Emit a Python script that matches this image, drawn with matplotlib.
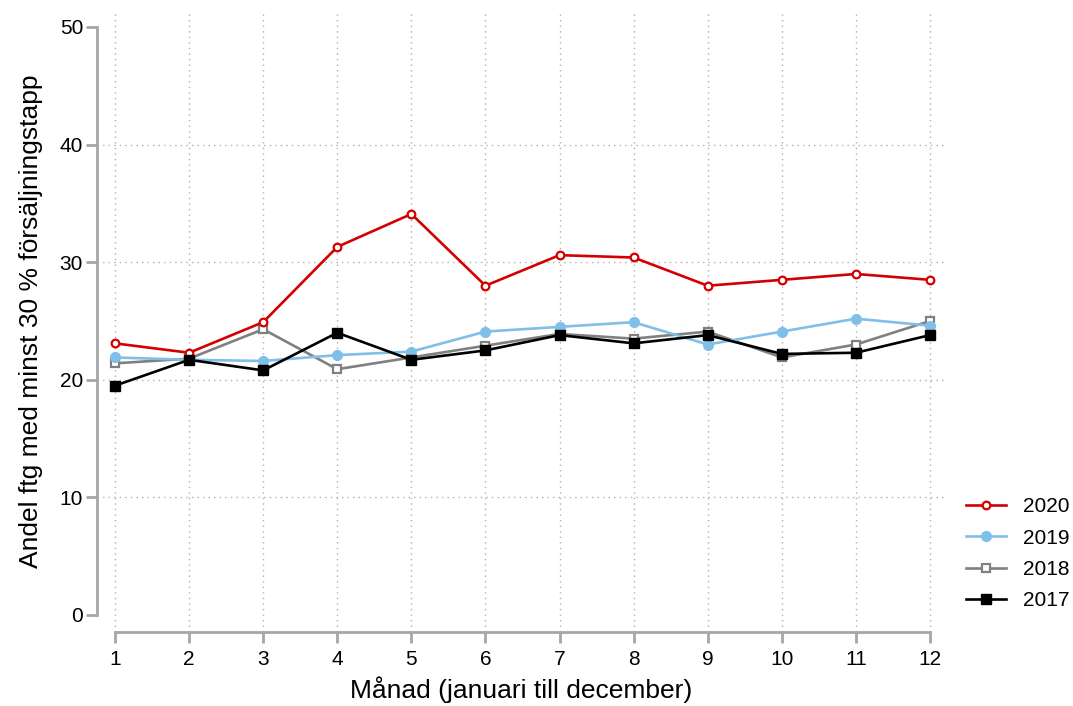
import matplotlib
matplotlib.use("Agg")
from matplotlib import pyplot as plt
import numpy as np

plt.rcParams['font.family'] = ['Liberation Sans', 'DejaVu Sans']

months = np.arange(1, 13)
y2020 = [23.1, 22.3, 24.9, 31.3, 34.1, 28.0, 30.6, 30.4, 28.0, 28.5, 29.0, 28.5]
y2019 = [21.9, 21.7, 21.6, 22.1, 22.4, 24.1, 24.5, 24.9, 23.0, 24.1, 25.2, 24.6]
y2018 = [21.4, 21.8, 24.3, 20.9, 21.9, 22.9, 23.9, 23.5, 24.1, 21.9, 23.0, 25.0]
y2017 = [19.5, 21.7, 20.8, 24.0, 21.7, 22.5, 23.8, 23.1, 23.8, 22.2, 22.3, 23.8]

axis_gray = '#a6a6a6'

fig = plt.figure(figsize=(10.73, 7.06), dpi=100)
ax = fig.add_axes([97 / 1073, 1 - 632 / 706, (945 - 97) / 1073, (632 - 10) / 706])

# dotted grid
for v in [10, 20, 30, 40]:
    ax.axhline(v, color='#b0b0b0', lw=1.0, ls=(0, (1, 3)), zorder=0)
for m in months:
    ax.axvline(m, color='#b0b0b0', lw=1.0, ls=(0, (1, 3)), zorder=0)

ax.plot(months, y2020, color='#d40000', lw=1.9, marker='o', ms=5.5,
        mfc='white', mec='#d40000', mew=1.6, label='2020', zorder=5)
ax.plot(months, y2019, color='#7fbfe8', lw=1.9, marker='o', ms=7,
        mfc='#7fbfe8', mec='#7fbfe8', label='2019', zorder=4)
ax.plot(months, y2018, color='#808080', lw=1.9, marker='s', ms=6,
        mfc='white', mec='#808080', mew=1.6, label='2018', zorder=3)
ax.plot(months, y2017, color='black', lw=1.9, marker='s', ms=7.5,
        mfc='black', mec='black', label='2017', zorder=6)

ax.set_xlim(1 - 18 / 74.09, 12 + 15 / 74.09)
ax.set_ylim(-17 / 11.76, 50 + 17 / 11.76)

ax.set_xticks(months)
ax.set_yticks([0, 10, 20, 30, 40, 50])

for s in ['top', 'right']:
    ax.spines[s].set_visible(False)
ax.spines['left'].set_bounds(0, 50)
ax.spines['bottom'].set_bounds(1, 12)
for s in ['left', 'bottom']:
    ax.spines[s].set_color(axis_gray)
    ax.spines[s].set_linewidth(2)

ax.tick_params(axis='both', colors=axis_gray, width=2, length=8,
               labelcolor='black', labelsize=15)
ax.tick_params(axis='x', pad=5)
ax.tick_params(axis='y', pad=2)

ax.set_xlabel('Månad (januari till december)', fontsize=19, labelpad=5)
ax.set_ylabel('Andel ftg med minst 30 % försäljningstapp', fontsize=19, labelpad=12)

ax.legend(loc='upper left', bbox_to_anchor=(966 / 1073, 1 - 497 / 706),
          bbox_transform=fig.transFigure, frameon=False, fontsize=15,
          borderpad=0, borderaxespad=0,
          handlelength=1.9, labelspacing=0.6, handletextpad=0.85)

plt.savefig('out.png', dpi=100)
plt.close()
